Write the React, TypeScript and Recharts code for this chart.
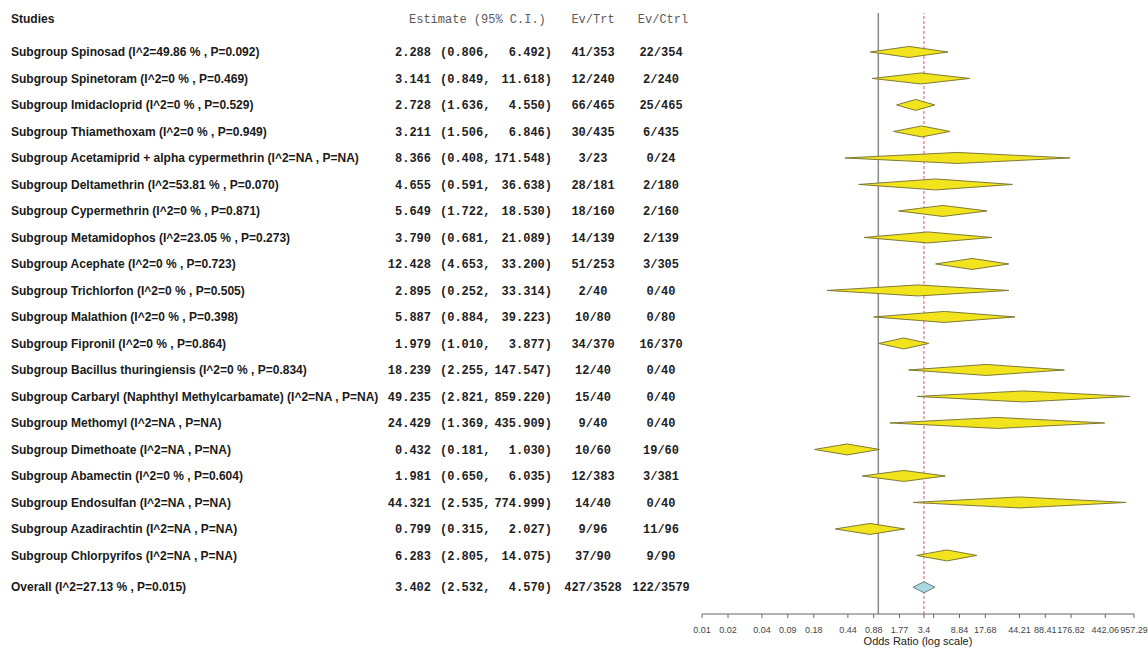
import React from 'react';
import { ScatterChart, Scatter, XAxis, YAxis, ReferenceLine } from 'recharts';

// subgroup rows, top to bottom
const studies = [
  'Subgroup Spinosad (I^2=49.86 % , P=0.092)',
  'Subgroup Spinetoram (I^2=0 % , P=0.469)',
  'Subgroup Imidacloprid (I^2=0 % , P=0.529)',
  'Subgroup Thiamethoxam (I^2=0 % , P=0.949)',
  'Subgroup Acetamiprid + alpha cypermethrin (I^2=NA , P=NA)',
  'Subgroup Deltamethrin (I^2=53.81 % , P=0.070)',
  'Subgroup Cypermethrin (I^2=0 % , P=0.871)',
  'Subgroup Metamidophos (I^2=23.05 % , P=0.273)',
  'Subgroup Acephate (I^2=0 % , P=0.723)',
  'Subgroup Trichlorfon (I^2=0 % , P=0.505)',
  'Subgroup Malathion (I^2=0 % , P=0.398)',
  'Subgroup Fipronil (I^2=0 % , P=0.864)',
  'Subgroup Bacillus thuringiensis (I^2=0 % , P=0.834)',
  'Subgroup Carbaryl (Naphthyl Methylcarbamate) (I^2=NA , P=NA)',
  'Subgroup Methomyl (I^2=NA , P=NA)',
  'Subgroup Dimethoate (I^2=NA , P=NA)',
  'Subgroup Abamectin (I^2=0 % , P=0.604)',
  'Subgroup Endosulfan (I^2=NA , P=NA)',
  'Subgroup Azadirachtin (I^2=NA , P=NA)',
  'Subgroup Chlorpyrifos (I^2=NA , P=NA)',
];
const estimates = [2.288, 3.141, 2.728, 3.211, 8.366, 4.655, 5.649, 3.79, 12.428, 2.895, 5.887, 1.979, 18.239, 49.235, 24.429, 0.432, 1.981, 44.321, 0.799, 6.283];
const lowers = [0.806, 0.849, 1.636, 1.506, 0.408, 0.591, 1.722, 0.681, 4.653, 0.252, 0.884, 1.01, 2.255, 2.821, 1.369, 0.181, 0.65, 2.535, 0.315, 2.805];
const uppers = [6.492, 11.618, 4.55, 6.846, 171.548, 36.638, 18.53, 21.089, 33.2, 33.314, 39.223, 3.877, 147.547, 859.22, 435.909, 1.03, 6.035, 774.999, 2.027, 14.075];
const evTrt = ['41/353', '12/240', '66/465', '30/435', '3/23', '28/181', '18/160', '14/139', '51/253', '2/40', '10/80', '34/370', '12/40', '15/40', '9/40', '10/60', '12/383', '14/40', '9/96', '37/90'];
const evCtrl = ['22/354', '2/240', '25/465', '6/435', '0/24', '2/180', '2/160', '2/139', '3/305', '0/40', '0/80', '16/370', '0/40', '0/40', '0/40', '19/60', '3/381', '0/40', '11/96', '9/90'];

const overallLabel = 'Overall (I^2=27.13 % , P=0.015)';
const overallEst = 3.402;
const overallLower = 2.532;
const overallUpper = 4.57;
const overallTrt = '427/3528';
const overallCtrl = '122/3579';

// x axis ticks (odds ratio) and the labels printed under them
const xTicks = [0.0088, 0.0177, 0.044, 0.088, 0.177, 0.442, 0.884, 1.768, 3.402, 4.42, 8.84, 17.68, 44.21, 88.41, 176.82, 442.06, 957.29];
const xTickLabels = ['0.01', '0.02', '0.04', '0.09', '0.18', '0.44', '0.88', '1.77', '3.4', '', '8.84', '17.68', '44.21', '88.41', '176.82', '442.06', '957.29'];

const HEADER_ROW = -1.25;
const OVERALL_ROW = 20.2;

const SANS = '"Liberation Sans", Arial, sans-serif';
const MONO = '"Liberation Mono", "Courier New", monospace';

const subgroupPoints = studies.flatMap((_, i) => [
  { x: lowers[i], y: i },
  { x: estimates[i], y: i },
  { x: uppers[i], y: i },
]);
const overallPoints = [
  { x: overallLower, y: OVERALL_ROW },
  { x: overallEst, y: OVERALL_ROW },
  { x: overallUpper, y: OVERALL_ROW },
];
const rowTicks = [HEADER_ROW, ...studies.map((_, i) => i), OVERALL_ROW];

// every 3 points (lower, estimate, upper) become one diamond
function diamonds(fill: string, stroke: string) {
  return (props: any) => {
    const pts = props.points || [];
    const out: React.ReactNode[] = [];
    const h = 5.5;
    for (let i = 0; i + 2 < pts.length; i += 3) {
      const a = pts[i], b = pts[i + 1], c = pts[i + 2];
      out.push(
        <polygon
          key={i}
          points={`${a.x},${a.y} ${b.x},${b.y - h} ${c.x},${c.y} ${b.x},${b.y + h}`}
          fill={fill}
          stroke={stroke}
          strokeWidth={1}
        />
      );
    }
    return <g>{out}</g>;
  };
}

const noDot = () => <g />;

function RowText({ y, name, est, lo, hi, trt, ctrl }: any) {
  const mono = { fontFamily: MONO, fontWeight: 'bold' as const, fontSize: 12, fill: '#222' };
  return (
    <g>
      <text x={11} y={y} dy="0.35em" fontFamily={SANS} fontWeight="bold" fontSize={12} fill="#1a1a1a">{name}</text>
      <text x={431} y={y} dy="0.35em" textAnchor="end" {...mono}>{est.toFixed(3)}</text>
      <text x={440} y={y} dy="0.35em" {...mono}>{`(${lo.toFixed(3)},`}</text>
      <text x={552} y={y} dy="0.35em" textAnchor="end" {...mono}>{`${hi.toFixed(3)})`}</text>
      <text x={593} y={y} dy="0.35em" textAnchor="middle" {...mono}>{trt}</text>
      <text x={661} y={y} dy="0.35em" textAnchor="middle" {...mono}>{ctrl}</text>
    </g>
  );
}

function RowTick(props: any) {
  const { y, payload } = props;
  const v = payload.value;
  if (v === HEADER_ROW) {
    return (
      <g>
        <text x={11} y={y} dy="0.35em" fontFamily={SANS} fontWeight="bold" fontSize={12} fill="#1a1a1a">Studies</text>
        <text x={409} y={y} dy="0.35em" fontFamily={MONO} fontSize={12} fill="#5a5a5a">Estimate (95% C.I.)</text>
        <text x={593} y={y} dy="0.35em" textAnchor="middle" fontFamily={MONO} fontSize={12} fill="#5a5a5a">Ev/Trt</text>
        <text x={663} y={y} dy="0.35em" textAnchor="middle" fontFamily={MONO} fontSize={12} fill="#5a5a5a">Ev/Ctrl</text>
      </g>
    );
  }
  if (v === OVERALL_ROW) {
    return <RowText y={y} name={overallLabel} est={overallEst} lo={overallLower} hi={overallUpper} trt={overallTrt} ctrl={overallCtrl} />;
  }
  const i = Math.round(v);
  return <RowText y={y} name={studies[i]} est={estimates[i]} lo={lowers[i]} hi={uppers[i]} trt={evTrt[i]} ctrl={evCtrl[i]} />;
}

export default function App() {
  return (
    <div style={{ position: 'absolute', left: 0, top: 0, width: 1148, height: 649, background: '#fff' }}>
      <ScatterChart width={1148} height={649} margin={{ top: 13, right: 14, bottom: 0, left: 0 }}>
        <XAxis
          type="number"
          dataKey="x"
          scale="log"
          domain={[0.0088, 957.29]}
          allowDataOverflow
          ticks={xTicks}
          interval={0}
          tickFormatter={(v: number) => xTickLabels[xTicks.indexOf(v)] ?? ''}
          height={35}
          tickSize={4}
          tickMargin={9}
          stroke="#666"
          tick={{ fontSize: 9, fill: '#444', fontFamily: SANS }}
          label={{ value: 'Odds Ratio (log scale)', position: 'insideBottom', offset: 4, fontSize: 11, fill: '#222', fontFamily: SANS }}
        />
        <YAxis
          type="number"
          dataKey="y"
          domain={[-1.47, 21.21]}
          allowDataOverflow
          reversed
          ticks={rowTicks}
          interval={0}
          width={702}
          axisLine={false}
          tickLine={false}
          tick={<RowTick />}
        />
        <ReferenceLine x={1} stroke="#8a8a8a" strokeWidth={1.5} />
        <ReferenceLine x={overallEst} stroke="#e8506a" strokeWidth={1} strokeDasharray="3 2" />
        <Scatter
          data={subgroupPoints}
          isAnimationActive={false}
          shape={noDot}
          line={diamonds('#f2e41c', '#7f7a35')}
        />
        <Scatter
          data={overallPoints}
          isAnimationActive={false}
          shape={noDot}
          line={diamonds('#a9d8e3', '#6f7f84')}
        />
      </ScatterChart>
    </div>
  );
}
